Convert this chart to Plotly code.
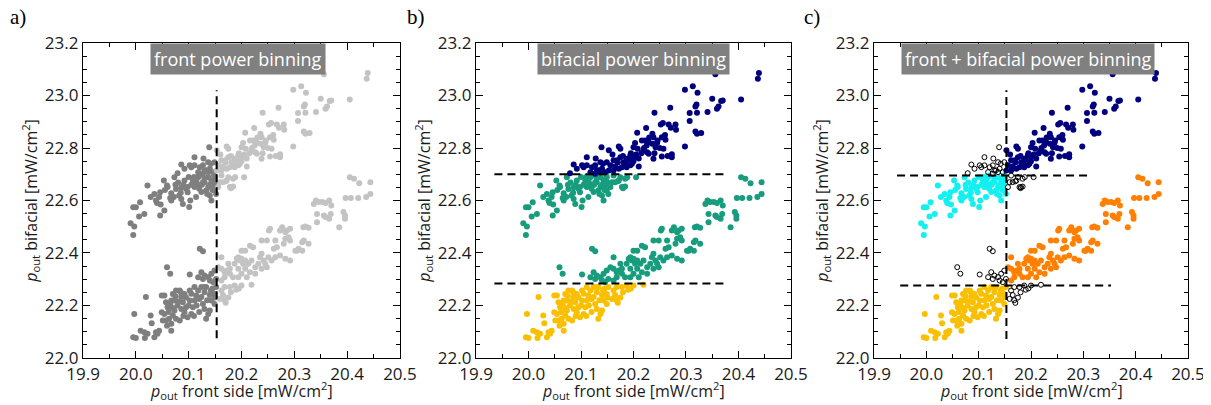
import plotly.graph_objects as go

# ---------------- data ----------------
# upper cluster (p_out front side, p_out bifacial)
upper_x = [
    19.990, 19.997, 19.995, 19.995, 20.000, 20.008, 20.006, 20.016, 20.022, 20.028,
    20.035, 20.038, 20.046, 20.044, 20.047, 20.054, 20.046, 20.053, 20.059, 20.067,
    20.072, 20.076, 20.080, 20.086, 20.092, 20.098, 20.086, 20.101, 20.108, 20.111,
    20.114, 20.121, 20.124, 20.130, 20.137, 20.140, 20.143, 20.146, 20.149, 20.156,
    20.159, 20.162, 20.172, 20.175, 20.184, 20.181, 20.178, 20.143, 20.188, 20.205,
    20.073, 20.060, 20.067, 20.082, 20.089, 20.098, 20.103, 20.118, 20.127, 20.133,
    20.149, 20.137, 20.152, 20.165, 20.170, 20.180, 20.184, 20.090, 20.095, 20.105,
    20.110, 20.115, 20.120, 20.125, 20.130, 20.135, 20.140, 20.145, 20.150, 20.148,
    20.120, 20.100, 20.085, 20.075, 20.065, 20.055, 20.040,
    20.086, 20.105, 20.127, 20.137, 20.139, 20.111, 20.153, 20.172, 20.175, 20.169,
    20.149, 20.156, 20.162, 20.175, 20.181, 20.187, 20.194, 20.200, 20.203, 20.208,
    20.200, 20.216, 20.222, 20.229, 20.236, 20.238, 20.246, 20.254, 20.261, 20.242,
    20.257, 20.236, 20.226, 20.219, 20.229, 20.238, 20.254, 20.273, 20.273, 20.207,
    20.224, 20.240, 20.252, 20.256, 20.270, 20.267, 20.280, 20.281, 20.271, 20.298,
    20.313, 20.322, 20.320, 20.318, 20.307, 20.321, 20.307, 20.318, 20.321, 20.329,
    20.298, 20.341, 20.350, 20.359, 20.362, 20.367, 20.370, 20.356, 20.405, 20.439,
    20.437, 20.079, 20.092, 20.102, 20.111, 20.121, 20.130, 20.140, 20.146, 20.153,
    20.162, 20.172, 20.178, 20.187, 20.194, 20.197, 20.137, 20.118, 20.127, 20.165,
    20.170, 20.185, 20.190, 20.200, 20.205, 20.210, 20.215, 20.220, 20.225, 20.210,
    20.195, 20.180, 20.160, 20.240, 20.250, 20.230, 20.245, 20.260, 20.265, 20.128,
    20.142, 20.133,
]
upper_y = [
    22.513, 22.501, 22.469, 22.574, 22.574, 22.593, 22.539, 22.549, 22.657, 22.613,
    22.625, 22.600, 22.631, 22.613, 22.585, 22.562, 22.543, 22.676, 22.657, 22.628,
    22.613, 22.644, 22.669, 22.650, 22.676, 22.631, 22.606, 22.575, 22.676, 22.651,
    22.613, 22.657, 22.632, 22.670, 22.651, 22.619, 22.676, 22.657, 22.689, 22.651,
    22.670, 22.695, 22.676, 22.689, 22.683, 22.651, 22.651, 22.600, 22.689, 22.689,
    22.689, 22.651, 22.600, 22.619, 22.587, 22.651, 22.600, 22.689, 22.670, 22.638,
    22.638, 22.689, 22.625, 22.670, 22.673, 22.647, 22.653, 22.660, 22.645, 22.660,
    22.690, 22.670, 22.645, 22.660, 22.685, 22.625, 22.660, 22.640, 22.670, 22.695,
    22.695, 22.690, 22.630, 22.660, 22.610, 22.640, 22.590,
    22.737, 22.727, 22.734, 22.746, 22.803, 22.765, 22.791, 22.806, 22.797, 22.753,
    22.746, 22.734, 22.753, 22.765, 22.746, 22.759, 22.772, 22.765, 22.819, 22.797,
    22.803, 22.829, 22.829, 22.822, 22.854, 22.841, 22.829, 22.841, 22.831, 22.803,
    22.797, 22.816, 22.784, 22.791, 22.778, 22.759, 22.768, 22.776, 22.765, 22.858,
    22.876, 22.934, 22.890, 22.895, 22.953, 22.890, 22.890, 22.870, 22.877, 23.022,
    23.035, 23.011, 22.966, 22.958, 22.933, 22.934, 22.903, 22.863, 22.854, 22.857,
    22.806, 22.937, 22.988, 22.950, 22.958, 22.979, 22.981, 23.081, 22.985, 23.086,
    23.064, 22.704, 22.721, 22.734, 22.734, 22.727, 22.714, 22.721, 22.708, 22.714,
    22.714, 22.721, 22.727, 22.727, 22.734, 22.740, 22.708, 22.708, 22.702, 22.730,
    22.745, 22.740, 22.755, 22.750, 22.775, 22.760, 22.780, 22.800, 22.810, 22.730,
    22.780, 22.770, 22.775, 22.780, 22.800, 22.840, 22.820, 22.850, 22.770, 22.760,
    22.740, 22.715,
]

# lower cluster
lower_x = [
    19.995, 20.000, 19.997, 20.019, 20.028, 20.030, 20.035, 20.041, 20.038, 20.044,
    20.017, 20.009, 20.016, 20.022, 20.049, 20.054, 20.057, 20.060, 20.054, 20.057,
    20.059, 20.067, 20.063, 20.070, 20.073, 20.067, 20.070, 20.076, 20.083, 20.086,
    20.089, 20.092, 20.098, 20.105, 20.108, 20.111, 20.114, 20.118, 20.124, 20.127,
    20.130, 20.137, 20.133, 20.140, 20.143, 20.149, 20.152, 20.162, 20.168, 20.178,
    20.187, 20.200, 20.149, 20.159, 20.079, 20.086, 20.076, 20.083, 20.092, 20.102,
    20.111, 20.124, 20.133, 20.142, 20.102, 20.095, 20.073, 20.049, 20.051, 20.067,
    20.065, 20.075, 20.085, 20.095, 20.100, 20.105, 20.115, 20.120, 20.130, 20.135,
    20.140, 20.145, 20.150, 20.120, 20.110, 20.090, 20.080, 20.070, 20.062, 20.130,
    20.165, 20.168, 20.170, 20.175, 20.180, 20.190, 20.195, 20.219,
    20.059, 20.065, 20.121, 20.127, 20.102, 20.162, 20.124, 20.130, 20.137, 20.143,
    20.149, 20.156, 20.162, 20.172, 20.178, 20.184, 20.194, 20.200, 20.207, 20.213,
    20.219, 20.203, 20.197, 20.191, 20.187, 20.175, 20.168, 20.152, 20.140, 20.127,
    20.118, 20.200, 20.207, 20.216, 20.222, 20.194, 20.200, 20.235, 20.238, 20.242,
    20.245, 20.251, 20.248, 20.257, 20.264, 20.261, 20.267, 20.264, 20.248, 20.238,
    20.252, 20.254, 20.273, 20.280, 20.283, 20.289, 20.292, 20.273, 20.277, 20.283,
    20.286, 20.292, 20.283, 20.292, 20.305, 20.308, 20.315, 20.318, 20.302, 20.317,
    20.321, 20.327, 20.337, 20.341, 20.346, 20.353, 20.359, 20.366, 20.370, 20.343,
    20.356, 20.343, 20.359, 20.366, 20.369, 20.385, 20.393, 20.396, 20.396, 20.397,
    20.407, 20.421, 20.436, 20.444, 20.405, 20.413, 20.423, 20.444, 20.327, 20.315,
    20.226, 20.232, 20.216, 20.226, 20.238, 20.210, 20.168, 20.178, 20.146, 20.162,
    20.194, 20.207,
]
lower_y = [
    22.079, 22.076, 22.168, 22.232, 22.162, 22.132, 22.079, 22.092, 22.098, 22.104,
    22.076, 22.104, 22.098, 22.092, 22.238, 22.238, 22.212, 22.193, 22.168, 22.143,
    22.123, 22.130, 22.149, 22.162, 22.181, 22.219, 22.244, 22.257, 22.257, 22.232,
    22.212, 22.174, 22.155, 22.168, 22.193, 22.219, 22.238, 22.257, 22.232, 22.206,
    22.187, 22.168, 22.149, 22.181, 22.219, 22.244, 22.270, 22.257, 22.270, 22.270,
    22.276, 22.276, 22.206, 22.225, 22.200, 22.187, 22.149, 22.143, 22.244, 22.257,
    22.270, 22.270, 22.270, 22.257, 22.219, 22.193, 22.219, 22.174, 22.143, 22.104,
    22.205, 22.235, 22.250, 22.230, 22.200, 22.245, 22.200, 22.225, 22.250, 22.220,
    22.240, 22.265, 22.230, 22.175, 22.160, 22.160, 22.215, 22.190, 22.175, 22.270,
    22.240, 22.220, 22.210, 22.230, 22.250, 22.260, 22.265, 22.279,
    22.346, 22.321, 22.416, 22.407, 22.318, 22.384, 22.327, 22.314, 22.308, 22.321,
    22.333, 22.346, 22.340, 22.333, 22.321, 22.308, 22.308, 22.321, 22.340, 22.359,
    22.371, 22.359, 22.371, 22.378, 22.359, 22.359, 22.327, 22.301, 22.295, 22.301,
    22.308, 22.409, 22.409, 22.428, 22.422, 22.384, 22.378, 22.384, 22.397, 22.371,
    22.359, 22.384, 22.346, 22.371, 22.384, 22.416, 22.422, 22.448, 22.448, 22.448,
    22.486, 22.492, 22.390, 22.435, 22.454, 22.460, 22.448, 22.486, 22.498, 22.479,
    22.486, 22.492, 22.378, 22.371, 22.409, 22.416, 22.441, 22.448, 22.409, 22.498,
    22.501, 22.496, 22.587, 22.600, 22.594, 22.594, 22.590, 22.600, 22.581, 22.549,
    22.543, 22.517, 22.537, 22.530, 22.549, 22.498, 22.556, 22.543, 22.530, 22.610,
    22.610, 22.610, 22.613, 22.625, 22.689, 22.683, 22.666, 22.670, 22.435, 22.409,
    22.346, 22.359, 22.327, 22.321, 22.340, 22.308, 22.308, 22.340, 22.289, 22.295,
    22.340, 22.371,
]

front_cut = 20.153        # front power bin limit
bif_cut_hi = 22.698       # bifacial bin limit (upper group)
bif_cut_lo = 22.281       # bifacial bin limit (lower group)

panel_titles = ["front power binning", "bifacial power binning",
                "front + bifacial power binning"]
panel_letters = ["a)", "b)", "c)"]
x_title = "<i>p</i><sub>out</sub> front side [mW/cm<sup>2</sup>]"
y_title = "<i>p</i><sub>out</sub> bifacial [mW/cm<sup>2</sup>]"

# ---------------- styling ----------------
OFF = 8                     # page body margin of the html page
FW, FH = 1211 - OFF, 405 - OFF
C_DARKGRAY = "#7f7f7f"
C_LIGHTGRAY = "#c3c3c3"
C_NAVY = "#00007f"
C_GREEN = "#179c7d"
C_GOLD = "#f8c000"
C_CYAN = "#12f0f0"
C_ORANGE = "#ff8000"
MS = 6
FONT = "Open Sans"


def px(p):
    return (p - OFF) / FW


def py(p):
    return 1 - (p - OFF) / FH


x_doms = [[px(83), px(400)], [px(476), px(791)], [px(874), px(1188)]]
y_dom = [py(358), py(43)]

fig = go.Figure()


def add_pts(xs, ys, color, idx, open_marker=False):
    xa = "x" if idx == 0 else f"x{idx + 1}"
    ya = "y" if idx == 0 else f"y{idx + 1}"
    if open_marker:
        marker = dict(symbol="circle-open", size=5, color="black", line=dict(width=1, color="black"))
    else:
        marker = dict(symbol="circle", size=MS, color=color, line=dict(width=0))
    fig.add_trace(go.Scatter(x=xs, y=ys, mode="markers", marker=marker,
                             xaxis=xa, yaxis=ya, showlegend=False, hoverinfo="x+y"))


def split(xs, ys, cond):
    a = [(x, y) for x, y in zip(xs, ys) if cond(x, y)]
    return [p[0] for p in a], [p[1] for p in a]


all_x = upper_x + lower_x
all_y = upper_y + lower_y

# panel a: front binning
for cond, col in [(lambda x, y: x < front_cut, C_DARKGRAY), (lambda x, y: x >= front_cut, C_LIGHTGRAY)]:
    xs, ys = split(all_x, all_y, cond)
    add_pts(xs, ys, col, 0)

# panel b: bifacial binning
for xs0, ys0, cut, lo_col, hi_col in [(upper_x, upper_y, bif_cut_hi, C_GREEN, C_NAVY),
                                      (lower_x, lower_y, bif_cut_lo, C_GOLD, C_GREEN)]:
    xs, ys = split(xs0, ys0, lambda x, y, c=cut: y < c)
    add_pts(xs, ys, lo_col, 1)
    xs, ys = split(xs0, ys0, lambda x, y, c=cut: y >= c)
    add_pts(xs, ys, hi_col, 1)

# panel c: front + bifacial binning
for xs0, ys0, cut, lo_col, hi_col in [(upper_x, upper_y, bif_cut_hi, C_CYAN, C_NAVY),
                                      (lower_x, lower_y, bif_cut_lo, C_GOLD, C_ORANGE)]:
    xs, ys = split(xs0, ys0, lambda x, y, c=cut: x < front_cut and y < c)
    add_pts(xs, ys, lo_col, 2)
    xs, ys = split(xs0, ys0, lambda x, y, c=cut: x >= front_cut and y >= c)
    add_pts(xs, ys, hi_col, 2)
    xs, ys = split(xs0, ys0, lambda x, y, c=cut: (x < front_cut) != (y < c))
    add_pts(xs, ys, "black", 2, open_marker=True)

# dashed separator lines
dash_line = dict(color="black", width=2, dash="8px,5px")
shapes = [
    dict(type="line", xref="x", yref="y", x0=front_cut, x1=front_cut, y0=22.075, y1=23.02, line=dash_line),
    dict(type="line", xref="x2", yref="y2", x0=19.935, x1=20.377, y0=22.700, y1=22.700, line=dash_line),
    dict(type="line", xref="x2", yref="y2", x0=19.935, x1=20.378, y0=22.284, y1=22.284, line=dash_line),
    dict(type="line", xref="x3", yref="y3", x0=front_cut, x1=front_cut, y0=22.072, y1=23.02, line=dash_line),
    dict(type="line", xref="x3", yref="y3", x0=19.944, x1=20.316, y0=22.695, y1=22.695, line=dash_line),
    dict(type="line", xref="x3", yref="y3", x0=19.950, x1=20.353, y0=22.276, y1=22.276, line=dash_line),
]

tickfont = dict(family=FONT, size=17, color="#1a1a1a")
titlefont = dict(family=FONT, size=16, color="#1a1a1a")

layout = dict(width=FW, height=FH, margin=dict(l=0, r=0, t=0, b=0, autoexpand=False),
              paper_bgcolor="white", plot_bgcolor="white", shapes=shapes)

for i in range(3):
    sfx = "" if i == 0 else str(i + 1)
    layout["xaxis" + sfx] = dict(
        domain=x_doms[i], anchor="y" + sfx, range=[19.8999, 20.5001], automargin=False,
        tick0=19.9, dtick=0.1, tickformat=".1f", ticks="inside", ticklen=7, tickwidth=1,
        tickcolor="black", minor=dict(dtick=0.05, ticks="inside", ticklen=4, tickcolor="black"),
        showline=True, linecolor="black", linewidth=1.2, mirror="ticks",
        showgrid=False, zeroline=False, tickfont=tickfont,
    )
    layout["yaxis" + sfx] = dict(
        domain=y_dom, anchor="x" + sfx, range=[21.9999, 23.2001], automargin=False,
        tick0=22.0, dtick=0.2, tickformat=".1f", ticks="inside", ticklen=7, tickwidth=1,
        tickcolor="black", minor=dict(dtick=0.05, ticks="inside", ticklen=4, tickcolor="black"),
        showline=True, linecolor="black", linewidth=1.2, mirror="ticks",
        showgrid=False, zeroline=False, tickfont=tickfont,
        title=dict(text=y_title, font=titlefont, standoff=3),
    )

annotations = []
title_x = [0.49, 0.5, 0.49]
for i in range(3):
    sfx = "" if i == 0 else str(i + 1)
    annotations.append(dict(
        text=panel_titles[i], xref=f"x{sfx} domain", yref=f"y{sfx} domain",
        x=title_x[i], y=1, xanchor="center", yanchor="top", showarrow=False,
        bgcolor="#808080", borderpad=3,
        font=dict(family=FONT, size=18, color="white"),
    ))
    annotations.append(dict(
        text=x_title, xref="paper", yref="paper",
        x=(x_doms[i][0] + x_doms[i][1]) / 2, y=py(390), xanchor="center", yanchor="middle",
        showarrow=False, font=titlefont,
    ))
letter_x = [8, 405, 802]
for i in range(3):
    annotations.append(dict(
        text=panel_letters[i], xref="paper", yref="paper",
        x=px(letter_x[i]), y=py(17), xanchor="left", yanchor="middle", showarrow=False,
        font=dict(family="Liberation Serif", size=21, color="black"),
    ))
layout["annotations"] = annotations

fig.update_layout(**layout)
fig.write_html("out.html")
